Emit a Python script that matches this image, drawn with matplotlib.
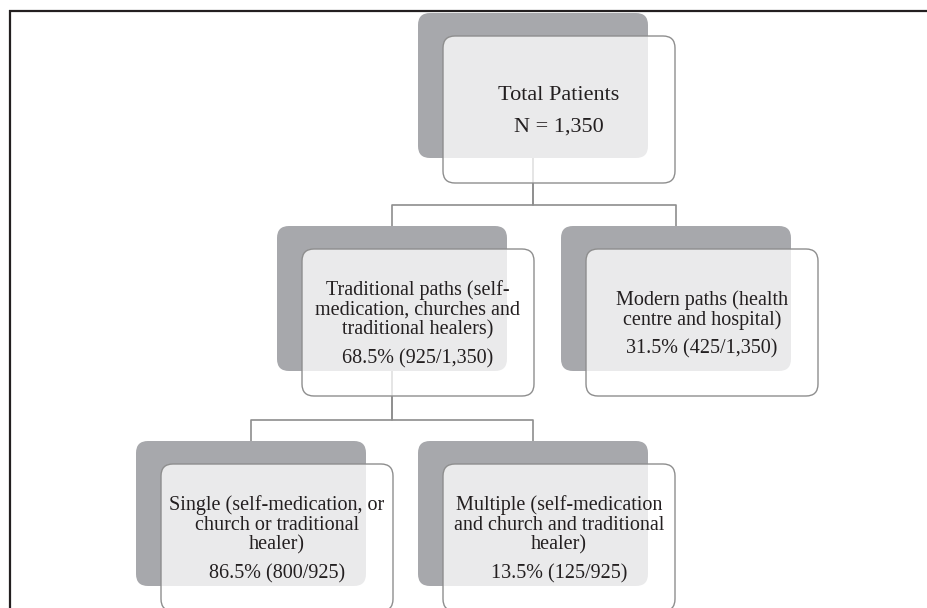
import matplotlib
matplotlib.use("Agg")
import matplotlib.pyplot as plt
from matplotlib.patches import FancyBboxPatch

# ---- data ----
labels = [
    "Total Patients",
    "Traditional paths (self-\nmedication, churches and\ntraditional healers)",
    "Modern paths (health\ncentre and hospital)",
    "Single (self-medication, or\nchurch or traditional\nhealer)",
    "Multiple (self-medication\nand church and traditional\nhealer)",
]
value_text = [
    "N = 1,350",
    "68.5% (925/1,350)",
    "31.5% (425/1,350)",
    "86.5% (800/925)",
    "13.5% (125/925)",
]
parents = [None, 0, 0, 1, 1]

# ---- layout (pixel space) ----
dark_xy = [(418, 13), (277, 226), (561, 226), (136, 441), (418, 441)]
DW, DH = 230, 145
FDX, FDY = 25, 23
FW, FH = 232, 147

DARK = "#a7a8ac"
EDGE = "#8e8e8e"
FRAME = "#231f20"
TEXTC = "#231f20"

fig = plt.figure(figsize=(9.28, 6.08), dpi=100)
ax = fig.add_axes([0, 0, 1, 1])
ax.set_xlim(0, 928)
ax.set_ylim(608, 0)
ax.axis("off")

# frame (top and left)
ax.plot([9, 928], [11, 11], color=FRAME, lw=1.6, solid_capstyle="butt", zorder=10)
ax.plot([10, 10], [10, 608], color=FRAME, lw=1.6, solid_capstyle="butt", zorder=10)

# connectors
for i, p in enumerate(parents):
    if p is None:
        continue
    px = dark_xy[p][0] + DW / 2
    py = dark_xy[p][1] + DH
    cx = dark_xy[i][0] + DW / 2
    cy = dark_xy[i][1]
    ym = cy - 21
    ax.plot([px, px, cx, cx], [py, ym, ym, cy], color=EDGE, lw=1.2, zorder=1)

for i in range(len(labels)):
    x0, y0 = dark_xy[i]
    ax.add_patch(FancyBboxPatch((x0, y0), DW, DH,
                                boxstyle="round,pad=0,rounding_size=12",
                                facecolor=DARK, edgecolor="none", zorder=2))
    fx, fy = x0 + FDX, y0 + FDY
    ax.add_patch(FancyBboxPatch((fx, fy), FW, FH,
                                boxstyle="round,pad=0,rounding_size=12",
                                facecolor=(1, 1, 1, 0.77), edgecolor=EDGE,
                                lw=1.0, zorder=3))
    cxt = fx + FW / 2
    lines = labels[i].split("\n")
    n = len(lines)
    if i == 0:
        fs = 16
        first = fy + 64
        gap = 32
        step = 20
    else:
        fs = 14.5
        step = 19.7
        first = fy + 46 + (3 - n) * step / 2
        gap = 29
    for k, ln in enumerate(lines):
        ax.text(cxt, first + k * step, ln, ha="center", va="baseline",
                fontsize=fs, family="Liberation Serif", color=TEXTC, zorder=5)
    ax.text(cxt, first + (n - 1) * step + gap, value_text[i], ha="center",
            va="baseline", fontsize=fs, family="Liberation Serif",
            color=TEXTC, zorder=5)

fig.savefig("out.png", dpi=100)
